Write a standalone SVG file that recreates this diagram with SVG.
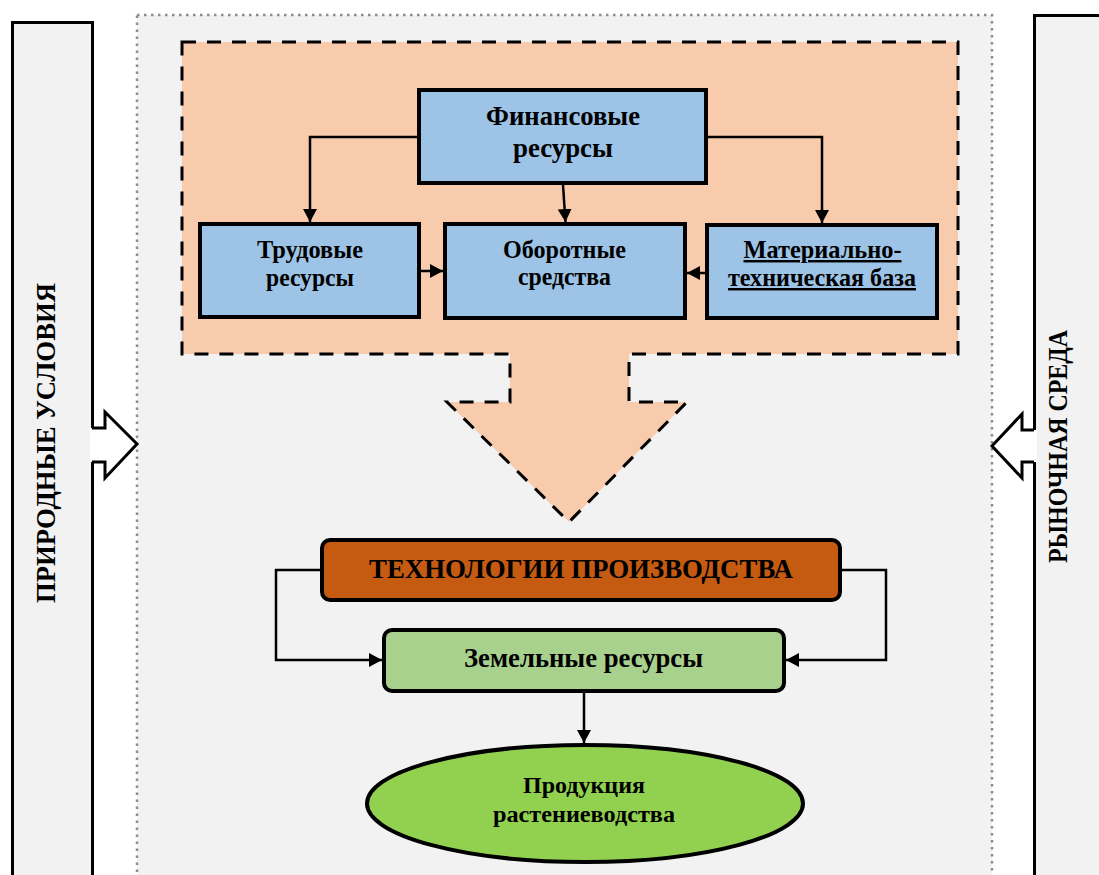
<svg xmlns="http://www.w3.org/2000/svg" width="1099" height="875" viewBox="0 0 1099 875">
<defs>
<style>
.t{font-family:"Liberation Serif","Times New Roman",serif;font-weight:bold;fill:#000;text-anchor:middle}
.box{stroke:#000;stroke-width:4}
.blue{fill:#9dc3e6}
.conn{fill:none;stroke:#000;stroke-width:2.5}
.side{fill:#f2f2f2;stroke:#000;stroke-width:3}
.harrow{fill:#fff;stroke:#000;stroke-width:3;stroke-linejoin:miter}
</style>
<marker id="ah" markerUnits="userSpaceOnUse" markerWidth="13" markerHeight="14" refX="13" refY="7" orient="auto">
<path d="M0,0 L13,7 L0,14 Z" fill="#000"/>
</marker>
</defs>
<rect width="1099" height="875" fill="#fff"/>

<g id="area">
<rect x="137" y="15" width="855" height="900" fill="#f2f2f2" stroke="#8c8c8c" stroke-width="2.5" stroke-dasharray="2.5 4.5"/>
</g>

<g id="prirodnye">
<rect class="side" x="12.5" y="22.5" width="80" height="900"/>
<text class="t" font-size="27.5" textLength="320" lengthAdjust="spacingAndGlyphs" transform="translate(54.5,443) rotate(-90)">ПРИРОДНЫЕ УСЛОВИЯ</text>
<path d="M90,428 H105 V412 L137,444 L105,478 V462 H90 Z" fill="#fff" stroke="none"/>
<path class="harrow" fill="none" d="M92,428 H105 V412 L137,444 L105,478 V462 H92"/>
</g>

<g id="rynochnaya">
<rect class="side" x="1034.5" y="15.5" width="100" height="900"/>
<text class="t" font-size="27.5" textLength="233" lengthAdjust="spacingAndGlyphs" transform="translate(1067,446.5) rotate(-90)">РЫНОЧНАЯ СРЕДА</text>
<path d="M1037,430 H1022 V414 L992,446 L1022,478 V462 H1037 Z" fill="#fff" stroke="none"/>
<path class="harrow" fill="none" d="M1034,430 H1022 V414 L992,446 L1022,478 V462 H1034"/>
</g>

<g id="resursy-block">
<path d="M182,42 H958 V354 H629 V402 H687 L569,522 L447,402 H510 V354 H182 Z" fill="#f8cbad" stroke="#000" stroke-width="3" stroke-dasharray="14 11"/>
</g>

<g id="connectors">
<path class="conn" d="M419,137 H310 V222" marker-end="url(#ah)"/>
<path class="conn" d="M706,137 H822 V223" marker-end="url(#ah)"/>
<path class="conn" d="M563,185 L565.5,222" marker-end="url(#ah)"/>
<path class="conn" d="M421,271 H443" marker-end="url(#ah)"/>
<path class="conn" d="M705,273 H687" marker-end="url(#ah)"/>
<path class="conn" d="M320,570 H276 V660 H382" marker-end="url(#ah)"/>
<path class="conn" d="M842,570 H886 V660 H786" marker-end="url(#ah)"/>
<path class="conn" d="M584,693 V743" marker-end="url(#ah)"/>
</g>

<g id="finansovye">
<rect class="box blue" x="419" y="90" width="287" height="93"/>
<text class="t" font-size="26.5" x="563" y="125" textLength="154" lengthAdjust="spacingAndGlyphs">Финансовые</text>
<text class="t" font-size="26.5" x="563" y="157" textLength="100" lengthAdjust="spacingAndGlyphs">ресурсы</text>
</g>

<g id="trudovye">
<rect class="box blue" x="200" y="224" width="219" height="93"/>
<text class="t" font-size="24.5" x="310" y="258" textLength="106" lengthAdjust="spacingAndGlyphs">Трудовые</text>
<text class="t" font-size="24.5" x="310" y="286" textLength="88" lengthAdjust="spacingAndGlyphs">ресурсы</text>
</g>

<g id="oborotnye">
<rect class="box blue" x="445" y="224" width="240" height="94"/>
<text class="t" font-size="24.5" x="564.5" y="258" textLength="123" lengthAdjust="spacingAndGlyphs">Оборотные</text>
<text class="t" font-size="24.5" x="564.5" y="285" textLength="93" lengthAdjust="spacingAndGlyphs">средства</text>
</g>

<g id="materialnaya">
<rect class="box blue" x="707" y="225" width="230" height="93"/>
<text class="t" font-size="24.5" x="822.5" y="258" textLength="158" lengthAdjust="spacingAndGlyphs" text-decoration="underline">Материально-</text>
<text class="t" font-size="24.5" x="822" y="286" textLength="188" lengthAdjust="spacingAndGlyphs" text-decoration="underline">техническая база</text>
</g>

<g id="tehnologii">
<rect class="box" x="322" y="540" width="518" height="60" rx="8" fill="#c55a11"/>
<text class="t" font-size="27.5" x="581" y="578" textLength="424" lengthAdjust="spacingAndGlyphs">ТЕХНОЛОГИИ ПРОИЗВОДСТВА</text>
</g>

<g id="zemelnye">
<rect class="box" x="384" y="630" width="400" height="61" rx="8" fill="#a9d18e"/>
<text class="t" font-size="26.5" x="583.5" y="667" textLength="239" lengthAdjust="spacingAndGlyphs">Земельные ресурсы</text>
</g>

<g id="produkciya">
<ellipse class="box" cx="585" cy="803.5" rx="218" ry="58.5" fill="#92d050"/>
<text class="t" font-size="23.5" x="584" y="793" textLength="122" lengthAdjust="spacingAndGlyphs">Продукция</text>
<text class="t" font-size="23.5" x="584" y="822" textLength="182" lengthAdjust="spacingAndGlyphs">растениеводства</text>
</g>
</svg>
